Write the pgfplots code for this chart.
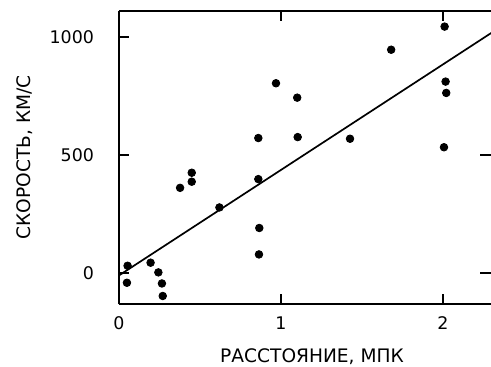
\documentclass[border=0pt]{standalone}
\usepackage{pgfplots}
\pgfplotsset{compat=1.18}
\usepackage{fontspec}
\setmainfont{DejaVu Sans}
\begin{document}
\begin{tikzpicture}
\begin{axis}[
  name=ax,
  scale only axis,
  width=186.3pt, height=146.5pt,
  xmin=0, xmax=2.3, ymin=-131, ymax=1110,
  axis x line=box, axis y line*=left,
  axis line style={line width=0.85pt, -},
  xtick={0,1,2}, ytick={0,500,1000},
  tick align=inside,
  major tick length=5pt,
  every tick/.style={black, line width=0.85pt},
  /pgf/number format/assume math mode=true,
  /pgf/number format/1000 sep={},
  ticklabel style={font=\fontsize{8.7}{10}\selectfont},
  yticklabel style={xshift=-9pt},
  xticklabel style={yshift=-3pt},
  xlabel={РАССТОЯНИЕ, МПК},
  ylabel={СКОРОСТЬ, КМ/С},
  label style={font=\fontsize{9.3}{11}\selectfont},
  xlabel style={at={(axis description cs:0.518,-0.18)}, anchor=center},
  ylabel style={at={(axis description cs:-0.252,0.5)}, anchor=center},
  clip=false,
]
\addplot[only marks, mark=*, mark size=1.9pt, black] coordinates {
(0.053,31) (0.049,-41) (0.195,44) (0.243,3) (0.265,-44) (0.27,-97)
(0.377,361) (0.449,425) (0.449,387) (0.62,278)
(2.01,1044) (1.68,946) (2.016,811) (2.02,763) (0.969,804) (1.10,743)
(0.86,572) (1.103,576) (1.426,569) (2.006,533) (0.86,398)
(0.866,191) (0.864,79)
};
\addplot[black, line width=0.85pt] coordinates {(0,-10) (2.3,1018)};
\draw[line width=0.85pt] (axis cs:2.23,500) -- (axis cs:2.3,500);
\draw[line width=0.85pt] (axis cs:2.23,0) -- (axis cs:2.3,0);
\end{axis}
\pgfresetboundingbox
\path[use as bounding box] ([shift={(-59.5pt,-31pt)}]ax.south west) rectangle ([shift={(186pt,152pt)}]ax.south west);
\end{tikzpicture}
\end{document}
